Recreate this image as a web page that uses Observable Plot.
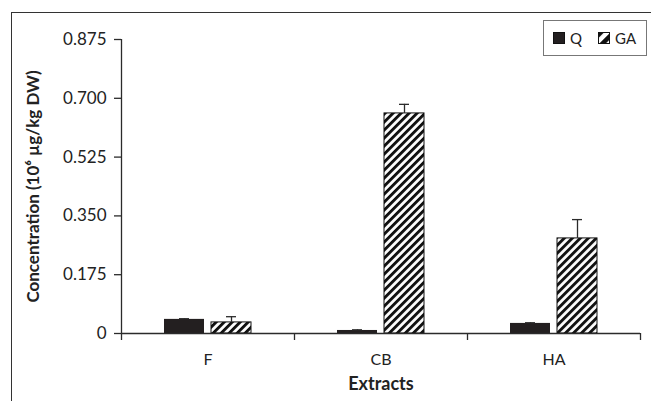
<!DOCTYPE html>
<html>
<head>
<meta charset="utf-8">
<script src="https://cdn.jsdelivr.net/npm/d3@7"></script>
<script src="https://cdn.jsdelivr.net/npm/@observablehq/plot@0.6"></script>
<style>
  html, body { margin: 0; padding: 0; background: #fff; }
  #wrap { position: relative; width: 651px; height: 401px; overflow: hidden; font-family: Lato, "Open Sans", sans-serif; }
  #frame { position: absolute; left: 11px; top: 12px; width: 700px; height: 500px; border-top: 1.5px solid #333; border-left: 1.5px solid #333; pointer-events: none; }
  #legend { position: absolute; left: 543px; top: 20px; width: 104px; height: 36px; border: 1px solid #777; box-sizing: border-box; display: flex; align-items: center; font-size: 15px; color: #222; }
  #legend .item { display: flex; align-items: center; }
  #legend svg { display: block; }
</style>
</head>
<body>
<div id="wrap">
  <div id="chart"></div>
  <div id="frame"></div>
  <div id="legend"></div>
</div>
<script>
const categories = ["F", "CB", "HA"];
const seriesNames = ["Q", "GA"];
const qValues = [0.042, 0.009, 0.030];
const qErrors = [0.002, 0.002, 0.002];
const gaValues = [0.033, 0.655, 0.283];
const gaErrors = [0.017, 0.027, 0.056];
const yTicks = [0, 0.175, 0.35, 0.525, 0.7, 0.875];
const yTitle = "Concentration (10\u2076 \u00b5g/kg DW)";
const xTitle = "Extracts";

const barW = 40 / 173, gapW = 7 / 173, capHalf = 5 / 173;
const rows = [];
categories.forEach((c, i) => {
  rows.push({cat: c, series: "Q", value: qValues[i], err: qErrors[i],
    x1: i + 0.5 - gapW / 2 - barW, x2: i + 0.5 - gapW / 2});
  rows.push({cat: c, series: "GA", value: gaValues[i], err: gaErrors[i],
    x1: i + 0.5 + gapW / 2, x2: i + 0.5 + gapW / 2 + barW});
});
rows.forEach(r => { r.xc = (r.x1 + r.x2) / 2; r.top = r.value + r.err; });
const qRows = rows.filter(r => r.series === "Q");
const gaRows = rows.filter(r => r.series === "GA");

function hatchDefs(id, scale) {
  const ns = "http://www.w3.org/2000/svg";
  const defs = document.createElementNS(ns, "defs");
  const p = document.createElementNS(ns, "pattern");
  p.setAttribute("id", id);
  p.setAttribute("patternUnits", "userSpaceOnUse");
  p.setAttribute("width", 5.66 * scale);
  p.setAttribute("height", 5.66 * scale);
  p.setAttribute("patternTransform", "rotate(45)");
  const bg = document.createElementNS(ns, "rect");
  bg.setAttribute("width", 5.66 * scale); bg.setAttribute("height", 5.66 * scale); bg.setAttribute("fill", "#fff");
  const r = document.createElementNS(ns, "rect");
  r.setAttribute("width", 2.9 * scale); r.setAttribute("height", 5.66 * scale); r.setAttribute("fill", "#111");
  p.appendChild(bg); p.appendChild(r); defs.appendChild(p);
  return defs;
}

const ink = "#2b2b2b";
const chart = Plot.plot({
  width: 651,
  height: 401,
  marginLeft: 121,
  marginRight: 11,
  marginTop: 39,
  marginBottom: 68,
  style: {fontFamily: "Lato, 'Open Sans', sans-serif", fontSize: "17px", color: "#222", background: "transparent"},
  x: {type: "linear", domain: [0, 3], axis: null},
  y: {domain: [0, 0.875], axis: null},
  marks: [
    () => hatchDefs("hatch", 1),
    Plot.rectY(qRows, {x1: "x1", x2: "x2", y1: 0, y2: "value", fill: "#231f20"}),
    Plot.rectY(gaRows, {x1: "x1", x2: "x2", y1: 0, y2: "value", fill: "url(#hatch)", stroke: "#111", strokeWidth: 1}),
    Plot.ruleX(rows, {x: "xc", y1: "value", y2: "top", stroke: ink, strokeWidth: 1.3}),
    Plot.ruleY(rows, {y: "top", x1: d => d.xc - capHalf, x2: d => d.xc + capHalf, stroke: ink, strokeWidth: 1.3}),
    Plot.ruleY([0], {x1: 0, x2: 3, stroke: ink, strokeWidth: 1.3}),
    Plot.ruleX([0], {y1: 0, y2: 0.875, stroke: ink, strokeWidth: 1.3}),
    Plot.axisY({ticks: yTicks, tickSize: 7, tickPadding: 8, tickFormat: d => d === 0 ? "0" : d.toFixed(3), label: null, stroke: ink, strokeWidth: 1.3, fontSize: 17}),
    Plot.axisX({ticks: [0, 1, 2, 3], tickSize: 7, tickFormat: () => "", label: null, stroke: ink, strokeWidth: 1.3}),
    Plot.axisX({ticks: [0.5, 1.5, 2.5], tickSize: 0, tickPadding: 20, tickFormat: d => categories[Math.floor(d)], label: null, fontSize: 16}),
    Plot.text([yTitle], {frameAnchor: "left", textAnchor: "middle", dx: -88, rotate: -90, fontWeight: "bold", fontSize: 17, fill: "#222"}),
    Plot.text([xTitle], {frameAnchor: "bottom", textAnchor: "middle", dy: 56, fontWeight: "bold", fontSize: 18, fill: "#222"})
  ]
});
document.getElementById("chart").appendChild(chart);

// legend
const legend = document.getElementById("legend");
const ns = "http://www.w3.org/2000/svg";
seriesNames.forEach((s, i) => {
  const item = document.createElement("div");
  item.className = "item";
  item.style.marginLeft = i === 0 ? "9px" : "16px";
  const sw = document.createElementNS(ns, "svg");
  sw.setAttribute("width", 12); sw.setAttribute("height", 12);
  if (s === "GA") sw.appendChild(hatchDefs("hatchLegend", 1.6));
  const r = document.createElementNS(ns, "rect");
  r.setAttribute("x", 0.5); r.setAttribute("y", 0.5); r.setAttribute("width", 11); r.setAttribute("height", 11);
  r.setAttribute("fill", s === "Q" ? "#231f20" : "url(#hatchLegend)");
  r.setAttribute("stroke", "#111");
  sw.appendChild(r);
  const t = document.createElement("span");
  t.textContent = s;
  t.style.marginLeft = "5px";
  item.appendChild(sw); item.appendChild(t);
  legend.appendChild(item);
});
</script>
</body>
</html>
